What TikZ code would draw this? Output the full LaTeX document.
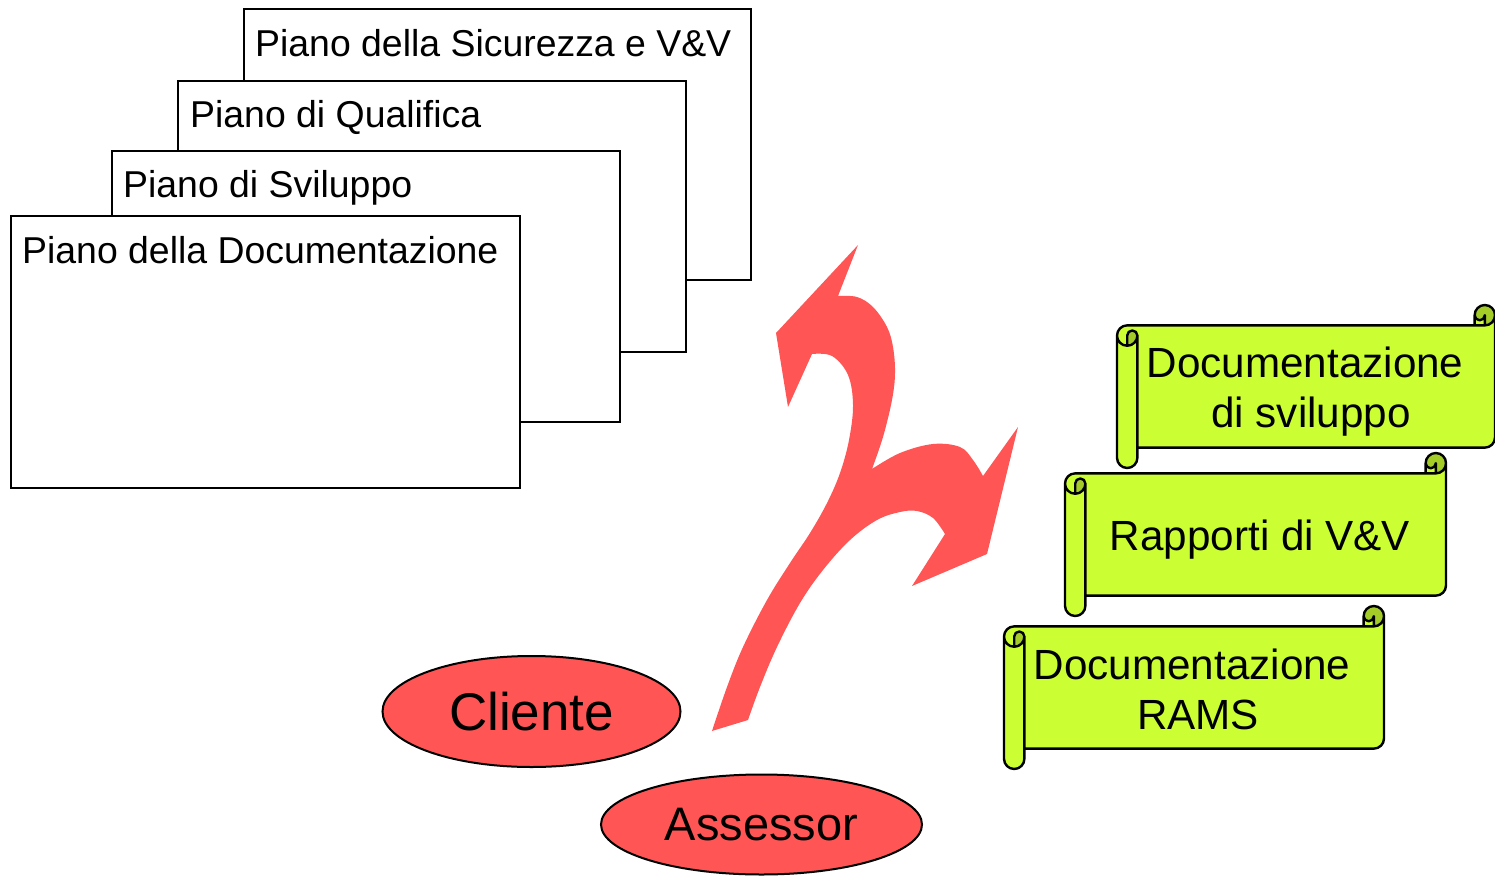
\documentclass[tikz,border=0pt]{standalone}
\usepackage{fontspec}
\setmainfont{Liberation Sans}
\usetikzlibrary{shapes.geometric}

\definecolor{actorred}{HTML}{FF5555}
\definecolor{scrollgreen}{HTML}{CCFF33}
\definecolor{scrollshade}{HTML}{A3CC29}

% Horizontal scroll banner: #1,#2 = top-left corner, #3 = width, #4 = height
\newcommand\hscroll[4]{%
  \begin{scope}[shift={(#1,#2)}]
    \pgfmathsetmacro\sw{#3}%
    \pgfmathsetmacro\sh{#4}%
    \pgfmathsetmacro\ch{0.125*min(#3,#4)}%
    \pgfmathsetmacro\chh{\ch/2}%
    \pgfmathsetmacro\chq{\ch/4}%
    \pgfmathsetmacro\ya{1.5*\ch}%
    \pgfmathsetmacro\yb{2*\ch}%
    \pgfmathsetmacro\yc{\sh-\ch}%
    \pgfmathsetmacro\yd{\sh-\chh}%
    \pgfmathsetmacro\ye{\yc-\chh}%
    \pgfmathsetmacro\xa{\sw-\ch}%
    \pgfmathsetmacro\xb{\sw-\chh}%
    % banner body and left roll
    \fill[scrollgreen]
      (\sw,\chh) arc[start angle=0,delta angle=90,radius=\chh]
      -- (\xb,\chh) arc[start angle=0,delta angle=180,radius=\chq]
      -- (\xa,\ch) -- (\chh,\ch) arc[start angle=270,delta angle=-90,radius=\chh]
      -- (0,\yd) arc[start angle=180,delta angle=-180,radius=\chh]
      -- (\ch,\yc) -- (\xb,\yc) arc[start angle=90,delta angle=-90,radius=\chh]
      -- cycle;
    % shaded curls
    \fill[scrollshade]
      (\chh,\yb) arc[start angle=90,delta angle=-90,radius=\chh]
      arc[start angle=0,delta angle=-180,radius=\chq] -- cycle
      (\xb,\ch) arc[start angle=90,delta angle=-270,radius=\chh]
      arc[start angle=180,delta angle=-180,radius=\chq] -- cycle;
    % outline
    \draw[scrollline]
      (0,\ya) arc[start angle=180,delta angle=90,radius=\chh]
      -- (\xa,\ch) -- (\xa,\chh) arc[start angle=180,delta angle=180,radius=\chh]
      -- (\sw,\ye) arc[start angle=0,delta angle=90,radius=\chh]
      -- (\ch,\yc) -- (\ch,\yd) arc[start angle=0,delta angle=180,radius=\chh]
      -- cycle
      (\xa,\ch) -- (\xb,\ch) arc[start angle=90,delta angle=-90,radius=\chh]
      (\xb,\ch) -- (\xb,\chh) arc[start angle=0,delta angle=180,radius=\chq]
      (\chh,\yb) -- (\chh,\ya) arc[start angle=180,delta angle=180,radius=\chq]
      arc[start angle=0,delta angle=180,radius=\chh]
      (\ch,\ya) -- (\ch,\yc);
  \end{scope}%
}

\begin{document}
\begin{tikzpicture}[x=1pt,y=-1pt,
  planbox/.style={draw=black,fill=white,line width=2.4pt},
  plantext/.style={font=\fontsize{37.4}{44}\selectfont,anchor=base west,inner sep=0pt},
  actor/.style={ellipse,draw=black,fill=actorred,line width=2pt,inner sep=0pt},
  scrollline/.style={draw=black,line width=2.4pt,line join=round,line cap=round},
  scrolltext/.style={font=\fontsize{42.2}{50}\selectfont,align=center,inner sep=0pt}]

\useasboundingbox (0,0) rectangle (1495,877);

% stacked plan sheets, back to front
\draw[planbox] (244,9) rectangle (751,280);
\node[plantext] (sicurezza) at (255,57) {Piano della Sicurezza e V\&V};
\draw[planbox] (178,81) rectangle (686,352);
\node[plantext] (qualifica) at (190,128) {Piano di Qualifica};
\draw[planbox] (112,151) rectangle (620,422);
\node[plantext] (sviluppo) at (123,198) {Piano di Sviluppo};
\draw[planbox] (11,216) rectangle (520,488);
\node[plantext] (documentazione) at (22,263) {Piano della Documentazione};

% curved double arrow
\fill[actorred]
  plot[smooth,tension=0.6] coordinates {(712,731) (727,687) (743,647) (767,600) (790,563) (810,533) (827,503) (840,473) (849,440) (853,405) (848,375) (832,356) (812,354)}
  -- (788,407) -- (776,333) -- (858,245) -- (838,296)
  -- plot[smooth,tension=0.6] coordinates {(838,296) (857,297) (873,307) (887,327) (893,347) (895,373) (892,400) (883,437) (872,469)}
  -- plot[smooth,tension=0.6] coordinates {(872,469) (900,453) (933,444) (960,447) (973,460) (983,476)}
  -- (1018,427) -- (987,554) -- (912,586) -- (945,534)
  -- plot[smooth,tension=0.6] coordinates {(945,534) (933,518) (917,511) (900,512) (877,520) (850,540) (823,570) (800,603) (777,647) (760,687) (748,720)}
  -- cycle;

% actors
\node[actor,minimum width=298pt,minimum height=111pt,font=\fontsize{53}{60}\selectfont] (cliente) at (531.5,711.5) {Cliente};
\node[actor,minimum width=321pt,minimum height=100pt,font=\fontsize{47}{54}\selectfont] (assessor) at (761.5,824.5) {Assessor};

% document scrolls
\hscroll{1117}{305}{378}{163}
\node[scrolltext] (docsvil) at (1311,392) {Documentazione\hphantom{\ }\\di sviluppo};
\hscroll{1065}{453}{381}{163}
\node[scrolltext] (rapporti) at (1260,540) {Rapporti di V\&V};
\hscroll{1004}{606}{380}{163}
\node[scrolltext] (rams) at (1198,689) {Documentazione\hphantom{\ }\\RAMS};

\end{tikzpicture}
\end{document}
